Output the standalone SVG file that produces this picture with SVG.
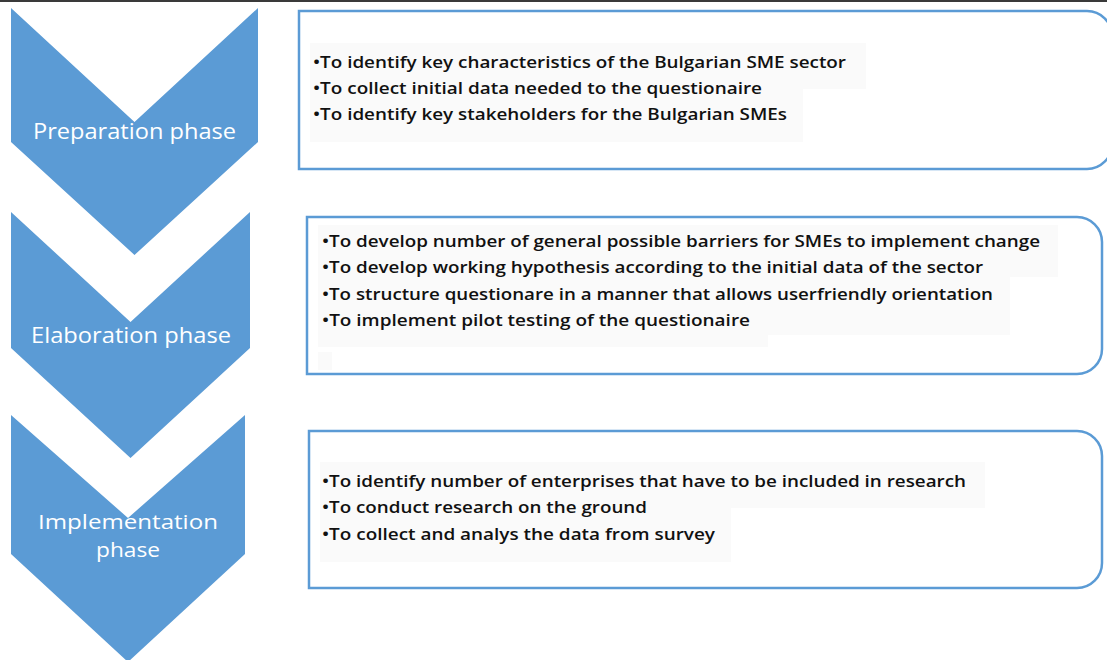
<svg xmlns="http://www.w3.org/2000/svg" width="1107" height="660" viewBox="0 0 1107 660">
<style>
.chev{fill:#5B9BD5;}
.lbl{fill:#FFFFFF;font-family:"Open Sans","Noto Sans",sans-serif;font-size:22px;}
.lbl2{fill:#FFFFFF;font-family:"Open Sans","Noto Sans",sans-serif;font-size:20px;}
.box{fill:#FFFFFF;stroke:#5B9BD5;stroke-width:2.5;}
.hl{fill:#FAFAFA;}
.txt{fill:#111111;font-family:"Open Sans","Noto Sans",sans-serif;font-size:16px;font-weight:600;}
</style>
<rect x="0" y="0" width="1107" height="660" fill="#FFFFFF"/>
<rect x="0" y="0" width="1107" height="2" fill="#3A3A3A"/>

<g id="chevron-preparation">
<polygon class="chev" points="11,8 134.5,122 258,8 258,142 134.5,255 11,142"/>
<text class="lbl" x="33" y="139" textLength="203" lengthAdjust="spacingAndGlyphs">Preparation phase</text>
</g>
<g id="chevron-elaboration">
<polygon class="chev" points="11,212 130.5,322 250,212 250,348 130.5,458 11,348"/>
<text class="lbl" x="31" y="343" textLength="200" lengthAdjust="spacingAndGlyphs">Elaboration phase</text>
</g>
<g id="chevron-implementation">
<polygon class="chev" points="11,415 128,518 245,415 245,554 128,662 11,554"/>
<text class="lbl2" x="38" y="529" textLength="180" lengthAdjust="spacingAndGlyphs">Implementation</text>
<text class="lbl2" x="96" y="557" textLength="64" lengthAdjust="spacingAndGlyphs">phase</text>
</g>

<g id="box-preparation">
<path class="box" d="M299,11 H1087 A25,25 0 0 1 1112,36 V144 A25,25 0 0 1 1087,169 H299 Z"/>
<rect class="hl" x="310" y="43" width="556" height="46"/>
<rect class="hl" x="310" y="89" width="493" height="53"/>
<text class="txt" x="313" y="68" textLength="533" lengthAdjust="spacingAndGlyphs">•To identify key characteristics of the Bulgarian SME sector</text>
<text class="txt" x="313" y="94" textLength="449" lengthAdjust="spacingAndGlyphs">•To collect initial data needed to the questionaire</text>
<text class="txt" x="313" y="120" textLength="474" lengthAdjust="spacingAndGlyphs">•To identify key stakeholders for the Bulgarian SMEs</text>
</g>

<g id="box-elaboration">
<path class="box" d="M307,217 H1077 A25,25 0 0 1 1102,242 V349 A25,25 0 0 1 1077,374 H307 Z"/>
<rect class="hl" x="318" y="225" width="740" height="52"/>
<rect class="hl" x="318" y="277" width="692" height="58"/>
<rect class="hl" x="318" y="335" width="450" height="12"/>
<rect class="hl" x="318" y="352" width="14" height="18"/>
<text class="txt" x="322" y="247" textLength="718" lengthAdjust="spacingAndGlyphs">•To develop number of general possible barriers for SMEs to implement change</text>
<text class="txt" x="322" y="273" textLength="661" lengthAdjust="spacingAndGlyphs">•To develop working hypothesis according to the initial data of the sector</text>
<text class="txt" x="322" y="300" textLength="671" lengthAdjust="spacingAndGlyphs">•To structure questionare in a manner that allows userfriendly orientation</text>
<text class="txt" x="322" y="326" textLength="428" lengthAdjust="spacingAndGlyphs">•To implement pilot testing of the questionaire</text>
</g>

<g id="box-implementation">
<path class="box" d="M309,431 H1077 A25,25 0 0 1 1102,456 V563 A25,25 0 0 1 1077,588 H309 Z"/>
<rect class="hl" x="320" y="462" width="665" height="46"/>
<rect class="hl" x="320" y="508" width="411" height="54"/>
<text class="txt" x="322" y="487" textLength="644" lengthAdjust="spacingAndGlyphs">•To identify number of enterprises that have to be included in research</text>
<text class="txt" x="322" y="513" textLength="325" lengthAdjust="spacingAndGlyphs">•To conduct research on the ground</text>
<text class="txt" x="322" y="540" textLength="393" lengthAdjust="spacingAndGlyphs">•To collect and analys the data from survey</text>
</g>

<g id="connectors"></g>
</svg>
